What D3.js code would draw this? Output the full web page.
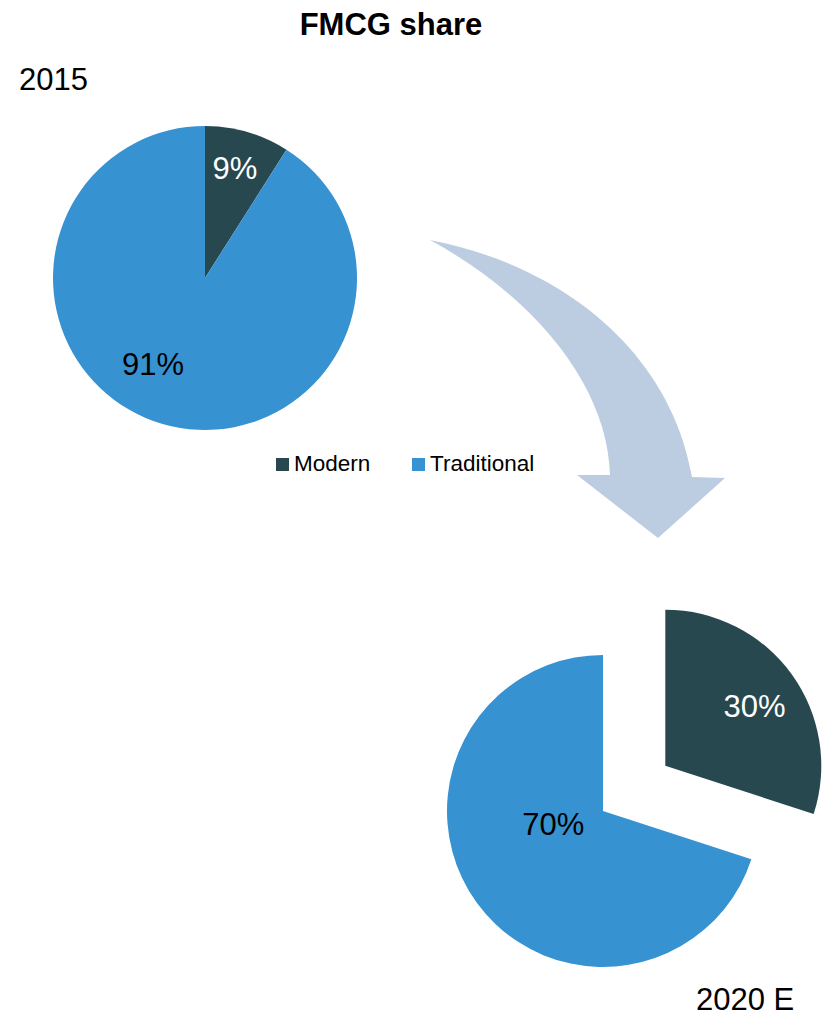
<!DOCTYPE html>
<html>
<head>
<meta charset="utf-8">
<script src="https://cdn.jsdelivr.net/npm/d3@7/dist/d3.min.js"></script>
<style>
  body { margin: 0; background: #fff; }
</style>
</head>
<body>
<div id="chart"></div>
<script>
// data
var categories = ["Modern", "Traditional"];
var years = ["2015", "2020 E"];
var share2015 = [9, 91];
var share2020 = [30, 70];
var chartTitle = "FMCG share";

var colors = d3.scaleOrdinal().domain(categories).range(["#284850", "#3792d1"]);
var labelFill = ["#fff", "#000"];

var width = 823, height = 1018;

var svg = d3.select("#chart").append("svg")
    .attr("width", width)
    .attr("height", height)
    .attr("font-family", "'Liberation Sans', Arial, sans-serif");

svg.append("text")
    .attr("x", 391)
    .attr("y", 35)
    .attr("text-anchor", "middle")
    .attr("font-weight", "bold")
    .attr("font-size", 31)
    .text(chartTitle);

// layout for each pie: centre, radius, exploded slice, label nudges (deg, fraction of r)
var pies = [
    { values: share2015, cx: 205, cy: 278, r: 152, explode: [0, 0],
      labelAngle: [-1, 15], labelR: [0.75, 0.66],
      year: years[0], yearX: 19, yearY: 90 },
    { values: share2020, cx: 603, cy: 811, r: 156, explode: [77, 0],
      labelAngle: [2, 21], labelR: [0.69, 0.33],
      year: years[1], yearX: 696, yearY: 1010 }
];

var pie = d3.pie().sort(null).value(function (d) { return d; });

pies.forEach(function (p) {
    var g = svg.append("g")
        .attr("transform", "translate(" + p.cx + "," + p.cy + ")");
    var arc = d3.arc().innerRadius(0).outerRadius(p.r);
    var arcs = pie(p.values);

    var slice = g.selectAll(".slice")
        .data(arcs)
        .enter().append("g")
        .attr("class", "slice")
        .attr("transform", function (d, i) {
            var mid = (d.startAngle + d.endAngle) / 2;
            var off = p.explode[i];
            return "translate(" + (Math.sin(mid) * off) + "," + (-Math.cos(mid) * off) + ")";
        });

    slice.append("path")
        .attr("d", arc)
        .attr("fill", function (d, i) { return colors(categories[i]); });

    slice.append("text")
        .attr("transform", function (d, i) {
            var a = (d.startAngle + d.endAngle) / 2 + p.labelAngle[i] * Math.PI / 180;
            var rr = p.r * p.labelR[i];
            return "translate(" + (Math.sin(a) * rr) + "," + (-Math.cos(a) * rr) + ")";
        })
        .attr("dy", "0.36em")
        .attr("text-anchor", "middle")
        .attr("font-size", 31)
        .attr("fill", function (d, i) { return labelFill[i]; })
        .text(function (d) { return d.data + "%"; });

    svg.append("text")
        .attr("x", p.yearX)
        .attr("y", p.yearY)
        .attr("font-size", 31)
        .text(p.year);
});

// legend
var legendX = [276, 412];
var legend = svg.selectAll(".legend")
    .data(categories)
    .enter().append("g")
    .attr("class", "legend")
    .attr("transform", function (d, i) { return "translate(" + legendX[i] + ",458)"; });
legend.append("rect")
    .attr("width", 13)
    .attr("height", 13)
    .attr("fill", function (d) { return colors(d); });
legend.append("text")
    .attr("x", 18)
    .attr("y", 13)
    .attr("font-size", 22.5)
    .text(function (d) { return d; });

// curved arrow between the two years
var arrow = d3.path();
arrow.moveTo(430, 240);
arrow.bezierCurveTo(560, 265, 670, 350, 692, 477);
arrow.lineTo(725, 478);
arrow.lineTo(658, 538);
arrow.lineTo(577, 475);
arrow.lineTo(610, 475);
arrow.bezierCurveTo(608, 390, 540, 300, 430, 240);
arrow.closePath();
svg.insert("path", ":first-child")
    .attr("d", arrow.toString())
    .attr("fill", "#bccde2");
</script>
</body>
</html>
